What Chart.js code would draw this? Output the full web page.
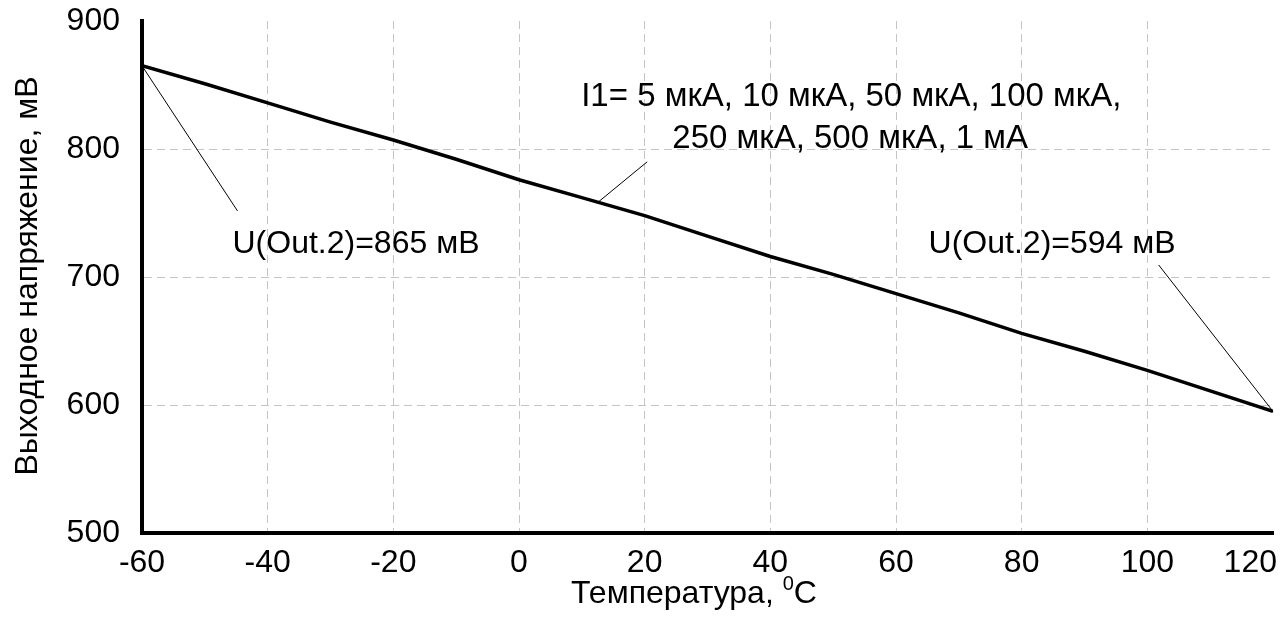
<!DOCTYPE html>
<html><head><meta charset="utf-8">
<script src="https://cdn.jsdelivr.net/npm/chart.js@4.4.1/dist/chart.umd.min.js"></script>
<style>html,body{margin:0;padding:0;background:#fff}canvas{display:block}</style>
</head><body>
<canvas id="c" width="1282" height="630"></canvas>
<script>
// ---- data ----
const temperatures = [-60,-50,-40,-30,-20,-10,0,10,20,30,40,50,60,70,80,90,100,110,120];
const outputVoltage = [865,851,836,821,807,792,776,762,748,732,716,702,687,672,656,642,627,611,595];
const xTickValues = [-60,-40,-20,0,20,40,60,80,100,120];
const yTickValues = [500,600,700,800,900];
const xTitleMain = 'Температура, ';
const xTitleSup = '0';
const xTitleUnit = 'C';
const yTitle = 'Выходное напряжение, мВ';
const noteLeft = 'U(Out.2)=865 мВ';
const noteRight = 'U(Out.2)=594 мВ';
const noteCurrents = ['I1= 5 мкА, 10 мкА, 50 мкА, 100 мкА,', '250 мкА, 500 мкА, 1 мА'];

const FONT = '"Liberation Sans", Arial, sans-serif';

const annotate = {
  id: 'annotate',
  beforeDraw(chart) {
    const s = chart.scales.x;
    const items = s.getLabelItems(chart.chartArea);
    const last = items[items.length - 1];
    if (last) { last.options.textAlign = 'right'; last.options.translation[0] = s.right + 4; }
  },
  afterDraw(chart) {
    const {ctx, scales: {x, y}} = chart;
    const px = v => x.getPixelForValue(v), py = v => y.getPixelForValue(v);
    ctx.save();
    ctx.strokeStyle = '#000'; ctx.lineWidth = 1;
    const leaders = [
      [temperatures[0], outputVoltage[0], -44.8, 751.6],
      [temperatures[temperatures.length-1], outputVoltage[outputVoltage.length-1], 101.8, 709.4],
      [12.6, 758.5, 20.4, 790]
    ];
    leaders.forEach(([x1,y1,x2,y2]) => {
      ctx.beginPath(); ctx.moveTo(px(x1), py(y1)); ctx.lineTo(px(x2), py(y2)); ctx.stroke();
    });
    ctx.fillStyle = '#000';
    ctx.font = '32px ' + FONT;
    ctx.textBaseline = 'alphabetic';
    ctx.textAlign = 'left';
    ctx.fillText(noteLeft, px(-45.6), py(718.8));
    ctx.textAlign = 'right';
    ctx.fillText(noteRight, px(104.5), py(718.8));
    ctx.textAlign = 'left';
    ctx.font = '33px ' + FONT;
    ctx.fillText(noteCurrents[0], px(9.9), py(833.6));
    ctx.fillText(noteCurrents[1], px(24.4), py(800.8));
    // x title with superscript
    ctx.font = '32px ' + FONT;
    const w1 = ctx.measureText(xTitleMain).width;
    ctx.font = '20px ' + FONT;
    const w2 = ctx.measureText(xTitleSup).width;
    ctx.font = '32px ' + FONT;
    const w3 = ctx.measureText(xTitleUnit).width;
    let tx = 694 - (w1 + w2 + w3) / 2;
    const base = 603;
    ctx.fillText(xTitleMain, tx, base); tx += w1;
    ctx.font = '20px ' + FONT; ctx.fillText(xTitleSup, tx, base - 13); tx += w2;
    ctx.font = '32px ' + FONT; ctx.fillText(xTitleUnit, tx, base);
    // y title
    ctx.translate(28, 276); ctx.rotate(-Math.PI / 2);
    ctx.textAlign = 'center'; ctx.textBaseline = 'middle';
    ctx.fillText(yTitle, 0, 0);
    ctx.restore();
  }
};

new Chart(document.getElementById('c'), {
  type: 'line',
  data: {
    datasets: [{
      data: temperatures.map((t, i) => ({x: t, y: outputVoltage[i]})),
      borderColor: '#000', borderWidth: 3.5, pointRadius: 0, tension: 0, fill: false
    }]
  },
  options: {
    responsive: false, animation: false, events: [],
    layout: {padding: {top: 21, right: 9, left: 0, bottom: 0}},
    plugins: {legend: {display: false}, tooltip: {enabled: false}},
    scales: {
      x: {
        type: 'linear', min: -60, max: 120,
        afterBuildTicks: s => { s.ticks = xTickValues.map(v => ({value: v})); },
        afterFit: s => { s.height = 97; s.paddingLeft = 0; s.paddingRight = 0; },
        grid: {color: c => (c.index === 0 || c.index === xTickValues.length - 1) ? 'rgba(0,0,0,0)' : '#c4c4c4', lineWidth: 1, drawTicks: false},
        border: {display: true, color: '#000', width: 4, dash: [8, 5]},
        ticks: {color: '#000', font: {size: 32, family: FONT}, padding: 11, maxRotation: 0, autoSkip: false}
      },
      y: {
        min: 500, max: 900,
        afterBuildTicks: s => { s.ticks = yTickValues.map(v => ({value: v})); },
        afterFit: s => { s.width = 142; s.paddingTop = 0; s.paddingBottom = 0; },
        grid: {color: c => (c.index === 0 || c.index === yTickValues.length - 1) ? 'rgba(0,0,0,0)' : '#c4c4c4', lineWidth: 1, drawTicks: false},
        border: {display: true, color: '#000', width: 4, dash: [8, 5]},
        ticks: {color: '#000', font: {size: 32, family: FONT}, padding: 22, autoSkip: false}
      }
    }
  },
  plugins: [annotate]
});
</script>
</body></html>
